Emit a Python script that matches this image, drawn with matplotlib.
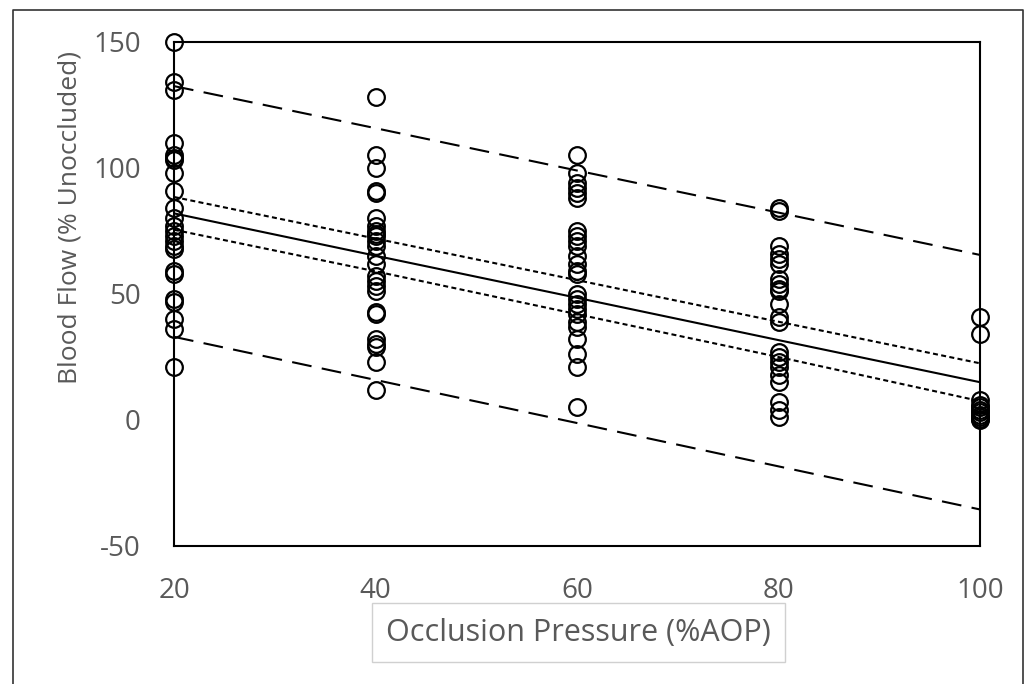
import matplotlib
matplotlib.use("Agg")
import matplotlib.pyplot as plt
from matplotlib.patches import Rectangle
from matplotlib.lines import Line2D

# ---- data ----
x_levels = [20, 40, 60, 80, 100]
flow_20 = [150, 134, 131, 110, 105, 104, 103, 98, 91, 84, 80, 77, 75, 73, 71, 69, 68, 59, 58, 48, 47, 40, 36, 21]
flow_40 = [128, 105, 100, 91, 90, 80, 77, 75, 74, 73, 71, 69, 65, 62, 57, 55, 53, 51, 43, 42, 32, 30, 29, 23, 12]
flow_60 = [105, 98, 94, 92, 90, 88, 75, 73, 71, 69, 65, 62, 59, 58, 50, 48, 46, 44, 42, 39, 37, 32, 26, 21, 5]
flow_80 = [84, 83, 69, 66, 64, 62, 56, 54, 52, 51, 46, 41, 39, 27, 25, 23, 21, 18, 15, 7, 4, 1]
flow_100 = [41, 34, 8, 6, 5, 4, 3, 2, 1, 0.5, 0]

fit_line = [82, 65.2, 48.5, 31.7, 15]
ci_upper = [88.5, 72, 55.5, 39, 22.5]
ci_lower = [75.5, 59, 42, 25, 7.5]
pi_upper = [132.5, 115.8, 99, 82.3, 65.5]
pi_lower = [33, 15.9, -1.2, -18.4, -35.5]

x_ticks = [20, 40, 60, 80, 100]
y_ticks = [-50, 0, 50, 100, 150]
x_label = "Occlusion Pressure (%AOP)"
y_label = "Blood Flow (% Unoccluded)"

# ---- figure ----
W, H = 1036, 684
plt.rcParams['axes.unicode_minus'] = False
plt.rcParams['font.family'] = ['Open Sans', 'DejaVu Sans']
fig = plt.figure(figsize=(W / 100, H / 100), dpi=100)
ax = fig.add_axes([174 / W, 1 - 546 / H, (980 - 174) / W, (546 - 42) / H])

groups = [flow_20, flow_40, flow_60, flow_80, flow_100]
for xv, vals in zip(x_levels, groups):
    ax.plot([xv] * len(vals), vals, linestyle='none', marker='o', markersize=12,
            markerfacecolor='none', markeredgecolor='black', markeredgewidth=1.6,
            clip_on=False, zorder=3)

ax.plot(x_levels, fit_line, color='black', lw=1.5, zorder=2)
ax.plot(x_levels, ci_upper, color='black', lw=1.5, dashes=(2.4, 1.6), zorder=2)
ax.plot(x_levels, ci_lower, color='black', lw=1.5, dashes=(2.4, 1.6), zorder=2)
ax.plot(x_levels, pi_upper, color='black', lw=1.5, dashes=(9.5, 5), zorder=2)
ax.plot(x_levels, pi_lower, color='black', lw=1.5, dashes=(9.5, 5), zorder=2)

ax.set_xlim(20, 100)
ax.set_ylim(-50, 150)
ax.set_xticks(x_ticks)
ax.set_yticks(y_ticks)
ax.tick_params(length=0, labelsize=20, colors='#595959')
ax.tick_params(axis='y', pad=24)
ax.tick_params(axis='x', pad=22)
for s in ax.spines.values():
    s.set_color('black')
    s.set_linewidth(1.5)

# axis labels
fig.text(70 / W, 1 - 218 / H, y_label, rotation=90, ha='center', va='center',
         fontsize=19, color='#595959')
fig.text(578 / W, 1 - 633 / H, x_label, ha='center', va='center',
         fontsize=22, color='#595959')
fig.patches.append(Rectangle((372 / W, 1 - 662 / H), (785 - 372) / W, (662 - 603) / H,
                             transform=fig.transFigure, fill=False,
                             edgecolor='#d0d0d0', lw=1.0))
# outer frame (left, top, right)
fx = [13 / W, 13 / W, 1023 / W, 1023 / W]
fy = [0.0, 1 - 10 / H, 1 - 10 / H, 0.0]
fig.lines.append(Line2D(fx, fy, transform=fig.transFigure, color='#333333', lw=1.2))

fig.savefig("out.png", dpi=100)
